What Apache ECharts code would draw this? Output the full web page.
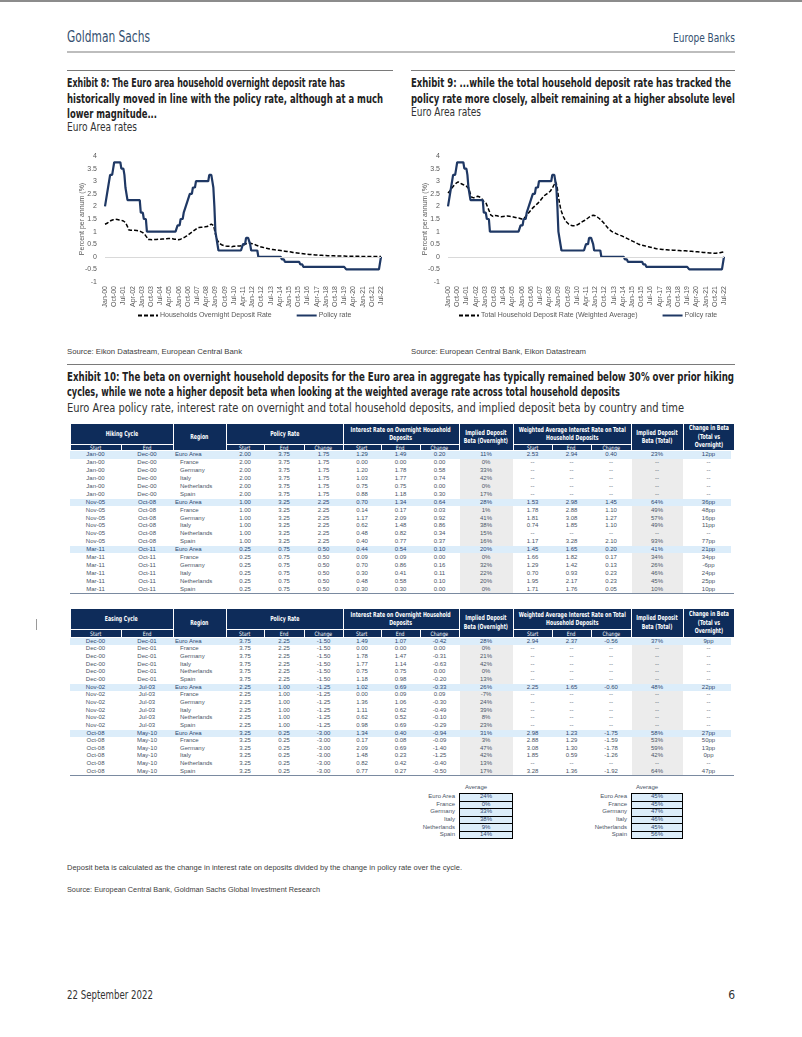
<!DOCTYPE html>
<html><head><meta charset="utf-8">
<script src="https://cdn.jsdelivr.net/npm/echarts/dist/echarts.min.js"></script>
<style>
html,body{margin:0;padding:0}
body{width:802px;height:1037px;background:#fff;position:relative;overflow:hidden;font-family:"Liberation Sans",Arial,sans-serif}
.hr{position:absolute;border-top:1px solid #7a7a7a;height:0}
</style></head>
<body>
<div class="hr" style="left:67px;top:70px;width:326px"></div>
<div class="hr" style="left:411px;top:70px;width:324px"></div>
<div class="hr" style="left:67px;top:364px;width:668px"></div>
<div id="c1" style="position:absolute;left:60px;top:140px;width:340px;height:190px"></div>
<div id="c2" style="position:absolute;left:404px;top:140px;width:340px;height:190px"></div>
<script>
// ---------- DATA ----------
const MONTHS=['Jan','Feb','Mar','Apr','May','Jun','Jul','Aug','Sep','Oct','Nov','Dec'];
const FIRST_YEAR=2000, LAST_YEAR=2022, LAST_MONTH_INDEX=6;
const categories=[];
for(let y=FIRST_YEAR;y<=LAST_YEAR;y++){for(let m=0;m<12;m++){if(y===LAST_YEAR&&m>LAST_MONTH_INDEX)break;categories.push(MONTHS[m]+'-'+String(y%100).padStart(2,'0'));}}

const policyRate=[
2.00,2.25,2.50,2.75,2.75,3.25,3.25,3.25,3.50,3.75,3.75,3.75,
3.75,3.75,3.75,3.75,3.50,3.50,3.50,3.25,2.75,2.75,2.25,2.25,
2.25,2.25,2.25,2.25,2.25,2.25,2.25,2.25,2.25,2.25,2.25,1.75,
1.75,1.75,1.50,1.50,1.50,1.00,1.00,1.00,1.00,1.00,1.00,1.00,
1.00,1.00,1.00,1.00,1.00,1.00,1.00,1.00,1.00,1.00,1.00,1.00,
1.00,1.00,1.00,1.00,1.00,1.00,1.00,1.00,1.00,1.00,1.00,1.25,
1.25,1.25,1.50,1.50,1.50,1.75,1.75,2.00,2.00,2.25,2.25,2.50,
2.50,2.50,2.75,2.75,2.75,3.00,3.00,3.00,3.00,3.00,3.00,3.00,
3.00,3.00,3.00,3.00,3.00,3.00,3.25,3.25,3.25,3.25,2.75,2.00,
1.00,1.00,0.50,0.25,0.25,0.25,0.25,0.25,0.25,0.25,0.25,0.25,
0.25,0.25,0.25,0.25,0.25,0.25,0.25,0.25,0.25,0.25,0.25,0.25,
0.25,0.25,0.25,0.50,0.50,0.50,0.75,0.75,0.75,0.75,0.50,0.25,
0.25,0.25,0.25,0.25,0.25,0.25,0.00,0.00,0.00,0.00,0.00,0.00,
0.00,0.00,0.00,0.00,0.00,0.00,0.00,0.00,0.00,0.00,0.00,0.00,
0.00,0.00,0.00,0.00,0.00,-0.10,-0.10,-0.10,-0.20,-0.20,-0.20,-0.20,
-0.20,-0.20,-0.20,-0.20,-0.20,-0.20,-0.20,-0.20,-0.20,-0.20,-0.20,-0.30,
-0.30,-0.30,-0.40,-0.40,-0.40,-0.40,-0.40,-0.40,-0.40,-0.40,-0.40,-0.40,
-0.40,-0.40,-0.40,-0.40,-0.40,-0.40,-0.40,-0.40,-0.40,-0.40,-0.40,-0.40,
-0.40,-0.40,-0.40,-0.40,-0.40,-0.40,-0.40,-0.40,-0.40,-0.40,-0.40,-0.40,
-0.40,-0.40,-0.40,-0.40,-0.40,-0.40,-0.40,-0.40,-0.50,-0.50,-0.50,-0.50,
-0.50,-0.50,-0.50,-0.50,-0.50,-0.50,-0.50,-0.50,-0.50,-0.50,-0.50,-0.50,
-0.50,-0.50,-0.50,-0.50,-0.50,-0.50,-0.50,-0.50,-0.50,-0.50,-0.50,-0.50,
-0.50,-0.50,-0.50,-0.50,-0.50,-0.50,0.00];

const overnightRate=[
1.29,1.30,1.33,1.36,1.39,1.42,1.44,1.46,1.47,1.48,1.49,1.49,
1.48,1.47,1.46,1.46,1.45,1.43,1.42,1.40,1.36,1.30,1.20,1.07,
1.06,1.05,1.05,1.05,1.05,1.05,1.05,1.04,1.04,1.03,1.02,1.00,
0.98,0.96,0.92,0.88,0.84,0.77,0.69,0.69,0.69,0.68,0.68,0.69,
0.69,0.69,0.69,0.69,0.70,0.70,0.70,0.70,0.71,0.71,0.71,0.72,
0.72,0.72,0.73,0.73,0.73,0.73,0.72,0.71,0.70,0.69,0.70,0.69,
0.68,0.69,0.70,0.72,0.74,0.76,0.78,0.80,0.83,0.86,0.89,0.92,
0.95,0.98,1.01,1.04,1.07,1.10,1.13,1.15,1.16,1.17,1.17,1.18,
1.18,1.18,1.19,1.19,1.20,1.22,1.25,1.28,1.30,1.34,1.25,1.10,
0.90,0.75,0.65,0.58,0.53,0.50,0.48,0.46,0.45,0.44,0.43,0.43,
0.42,0.42,0.42,0.42,0.40,0.41,0.42,0.42,0.42,0.42,0.43,0.43,
0.43,0.43,0.44,0.46,0.48,0.50,0.52,0.53,0.54,0.54,0.54,0.53,
0.52,0.51,0.50,0.48,0.46,0.45,0.43,0.41,0.40,0.39,0.38,0.37,
0.36,0.35,0.34,0.33,0.32,0.31,0.30,0.30,0.29,0.28,0.28,0.27,
0.27,0.26,0.26,0.25,0.25,0.24,0.23,0.23,0.22,0.21,0.21,0.20,
0.20,0.19,0.19,0.18,0.17,0.17,0.16,0.16,0.15,0.15,0.14,0.14,
0.13,0.13,0.12,0.12,0.11,0.11,0.10,0.10,0.09,0.09,0.09,0.08,
0.08,0.08,0.07,0.07,0.07,0.06,0.06,0.06,0.06,0.05,0.05,0.05,
0.05,0.05,0.04,0.04,0.04,0.04,0.04,0.04,0.04,0.03,0.03,0.03,
0.03,0.03,0.03,0.03,0.03,0.03,0.03,0.03,0.02,0.02,0.02,0.02,
0.02,0.02,0.02,0.02,0.02,0.02,0.02,0.02,0.02,0.02,0.01,0.01,
0.01,0.01,0.01,0.01,0.01,0.01,0.01,0.01,0.01,0.01,0.01,0.01,
0.01,0.01,0.01,0.01,0.01,0.01,0.01];

const totalRate=[
2.53,2.56,2.62,2.68,2.74,2.80,2.84,2.88,2.92,2.96,2.97,2.94,
2.92,2.90,2.88,2.86,2.84,2.82,2.80,2.77,2.72,2.62,2.48,2.37,
2.35,2.34,2.35,2.37,2.39,2.40,2.39,2.37,2.34,2.31,2.25,2.20,
2.20,2.15,2.05,1.95,1.85,1.75,1.65,1.62,1.60,1.62,1.64,1.64,
1.63,1.61,1.60,1.59,1.59,1.60,1.60,1.61,1.61,1.62,1.62,1.61,
1.61,1.60,1.60,1.59,1.58,1.57,1.56,1.55,1.54,1.53,1.53,1.52,
1.50,1.50,1.52,1.56,1.60,1.65,1.70,1.75,1.80,1.86,1.90,1.95,
1.98,2.01,2.05,2.09,2.13,2.18,2.22,2.27,2.32,2.38,2.42,2.46,
2.48,2.50,2.53,2.56,2.60,2.65,2.72,2.80,2.88,2.98,2.90,2.70,
2.40,2.15,1.95,1.80,1.68,1.58,1.50,1.43,1.38,1.33,1.30,1.27,
1.25,1.24,1.23,1.23,1.23,1.24,1.26,1.28,1.30,1.33,1.36,1.39,
1.41,1.43,1.45,1.48,1.51,1.54,1.57,1.60,1.62,1.65,1.65,1.64,
1.63,1.61,1.58,1.55,1.52,1.48,1.44,1.40,1.36,1.31,1.26,1.21,
1.16,1.12,1.08,1.04,1.01,0.99,0.97,0.95,0.93,0.91,0.89,0.87,
0.86,0.85,0.83,0.81,0.79,0.77,0.75,0.73,0.71,0.69,0.67,0.65,
0.63,0.61,0.59,0.57,0.55,0.53,0.51,0.49,0.48,0.47,0.46,0.45,
0.44,0.43,0.42,0.41,0.40,0.39,0.38,0.37,0.36,0.35,0.34,0.33,
0.32,0.31,0.31,0.30,0.30,0.29,0.29,0.29,0.28,0.28,0.28,0.27,
0.27,0.27,0.27,0.26,0.26,0.26,0.26,0.25,0.25,0.25,0.25,0.25,
0.24,0.24,0.24,0.24,0.24,0.23,0.23,0.23,0.22,0.22,0.22,0.21,
0.21,0.21,0.20,0.20,0.20,0.19,0.19,0.18,0.18,0.18,0.17,0.17,
0.17,0.16,0.16,0.16,0.15,0.15,0.15,0.15,0.14,0.14,0.14,0.15,
0.15,0.16,0.16,0.17,0.18,0.19,0.20];

const Y_MIN=-1, Y_MAX=4, Y_STEP=0.5;

const HIKING_ROWS=[
['Jan-00','Dec-00','Euro Area','2.00','3.75','1.75','1.29','1.49','0.20','11%','2.53','2.94','0.40','23%','12pp'],
['Jan-00','Dec-00','France','2.00','3.75','1.75','0.00','0.00','0.00','0%','--','--','--','--','--'],
['Jan-00','Dec-00','Germany','2.00','3.75','1.75','1.20','1.78','0.58','33%','--','--','--','--','--'],
['Jan-00','Dec-00','Italy','2.00','3.75','1.75','1.03','1.77','0.74','42%','--','--','--','--','--'],
['Jan-00','Dec-00','Netherlands','2.00','3.75','1.75','0.75','0.75','0.00','0%','--','--','--','--','--'],
['Jan-00','Dec-00','Spain','2.00','3.75','1.75','0.88','1.18','0.30','17%','--','--','--','--','--'],
['Nov-05','Oct-08','Euro Area','1.00','3.25','2.25','0.70','1.34','0.64','28%','1.53','2.98','1.45','64%','36pp'],
['Nov-05','Oct-08','France','1.00','3.25','2.25','0.14','0.17','0.03','1%','1.78','2.88','1.10','49%','48pp'],
['Nov-05','Oct-08','Germany','1.00','3.25','2.25','1.17','2.09','0.92','41%','1.81','3.08','1.27','57%','16pp'],
['Nov-05','Oct-08','Italy','1.00','3.25','2.25','0.62','1.48','0.86','38%','0.74','1.85','1.10','49%','11pp'],
['Nov-05','Oct-08','Netherlands','1.00','3.25','2.25','0.48','0.82','0.34','15%','--','--','--','--','--'],
['Nov-05','Oct-08','Spain','1.00','3.25','2.25','0.40','0.77','0.37','16%','1.17','3.28','2.10','93%','77pp'],
['Mar-11','Oct-11','Euro Area','0.25','0.75','0.50','0.44','0.54','0.10','20%','1.45','1.65','0.20','41%','21pp'],
['Mar-11','Oct-11','France','0.25','0.75','0.50','0.09','0.09','0.00','0%','1.66','1.82','0.17','34%','34pp'],
['Mar-11','Oct-11','Germany','0.25','0.75','0.50','0.70','0.86','0.16','32%','1.29','1.42','0.13','26%','-6pp'],
['Mar-11','Oct-11','Italy','0.25','0.75','0.50','0.30','0.41','0.11','22%','0.70','0.93','0.23','46%','24pp'],
['Mar-11','Oct-11','Netherlands','0.25','0.75','0.50','0.48','0.58','0.10','20%','1.95','2.17','0.23','45%','25pp'],
['Mar-11','Oct-11','Spain','0.25','0.75','0.50','0.30','0.30','0.00','0%','1.71','1.76','0.05','10%','10pp']];

const EASING_ROWS=[
['Dec-00','Dec-01','Euro Area','3.75','2.25','-1.50','1.49','1.07','-0.42','28%','2.94','2.37','-0.56','37%','9pp'],
['Dec-00','Dec-01','France','3.75','2.25','-1.50','0.00','0.00','0.00','0%','--','--','--','--','--'],
['Dec-00','Dec-01','Germany','3.75','2.25','-1.50','1.78','1.47','-0.31','21%','--','--','--','--','--'],
['Dec-00','Dec-01','Italy','3.75','2.25','-1.50','1.77','1.14','-0.63','42%','--','--','--','--','--'],
['Dec-00','Dec-01','Netherlands','3.75','2.25','-1.50','0.75','0.75','0.00','0%','--','--','--','--','--'],
['Dec-00','Dec-01','Spain','3.75','2.25','-1.50','1.18','0.98','-0.20','13%','--','--','--','--','--'],
['Nov-02','Jul-03','Euro Area','2.25','1.00','-1.25','1.02','0.69','-0.33','26%','2.25','1.65','-0.60','48%','22pp'],
['Nov-02','Jul-03','France','2.25','1.00','-1.25','0.00','0.09','0.09','-7%','--','--','--','--','--'],
['Nov-02','Jul-03','Germany','2.25','1.00','-1.25','1.36','1.06','-0.30','24%','--','--','--','--','--'],
['Nov-02','Jul-03','Italy','2.25','1.00','-1.25','1.11','0.62','-0.49','39%','--','--','--','--','--'],
['Nov-02','Jul-03','Netherlands','2.25','1.00','-1.25','0.62','0.52','-0.10','8%','--','--','--','--','--'],
['Nov-02','Jul-03','Spain','2.25','1.00','-1.25','0.98','0.69','-0.29','23%','--','--','--','--','--'],
['Oct-08','May-10','Euro Area','3.25','0.25','-3.00','1.34','0.40','-0.94','31%','2.98','1.23','-1.75','58%','27pp'],
['Oct-08','May-10','France','3.25','0.25','-3.00','0.17','0.08','-0.09','3%','2.88','1.29','-1.59','53%','50pp'],
['Oct-08','May-10','Germany','3.25','0.25','-3.00','2.09','0.69','-1.40','47%','3.08','1.30','-1.78','59%','13pp'],
['Oct-08','May-10','Italy','3.25','0.25','-3.00','1.48','0.23','-1.25','42%','1.85','0.59','-1.26','42%','0pp'],
['Oct-08','May-10','Netherlands','3.25','0.25','-3.00','0.82','0.42','-0.40','13%','--','--','--','--','--'],
['Oct-08','May-10','Spain','3.25','0.25','-3.00','0.77','0.27','-0.50','17%','3.28','1.36','-1.92','64%','47pp']];

const AVG_REGIONS=['Euro Area','France','Germany','Italy','Netherlands','Spain'];
const AVG_OVERNIGHT=['24%','0%','33%','38%','9%','14%'];
const AVG_TOTAL=['45%','45%','47%','46%','45%','56%'];

// ---------- HELPERS ----------
const B=document.body;
const NARROW='"Liberation Sans Narrow","DejaVu Sans Condensed",sans-serif';
const REG='"Liberation Sans",Arial,sans-serif';
function el(tag,css,html){const d=document.createElement(tag);d.style.cssText=css;if(html!==undefined)d.innerHTML=html;B.appendChild(d);return d;}
function rule(x0,x1,y,h,c){el('div',`position:absolute;left:${x0}px;top:${y}px;width:${x1-x0}px;height:${h}px;background:${c}`);}
function text(s,x,cy,fs,opt){
  opt=opt||{};
  const d=el('div',`position:absolute;white-space:nowrap;left:${x}px;top:${cy-fs*0.6}px;line-height:${fs*1.2}px;font-size:${fs}px;color:${opt.color||'#222'};font-weight:${opt.bold?'bold':'normal'};font-family:${opt.cond?NARROW:REG}`,s);
  const w=d.getBoundingClientRect().width;
  let sx=1; if(opt.w){sx=opt.w/w;}
  if(opt.right!==undefined){d.style.left=(opt.right-w*sx)+'px';}
  d.style.transformOrigin='0 50%';d.style.transform=`scaleX(${sx})`;
  return d;
}
function cell(x0,y0,x1,y1,html,o){
  o=o||{};
  const inner=o.sx?`<span style="display:inline-block;transform:scaleX(${o.sx});transform-origin:50% 50%">${html}</span>`:html;
  return el('div',`position:absolute;left:${x0}px;top:${y0}px;width:${x1-x0}px;height:${y1-y0}px;display:flex;align-items:center;justify-content:${o.align==='l'?'flex-start':(o.align==='r'?'flex-end':'center')};text-align:center;box-sizing:border-box;padding-left:${o.pl||0}px;padding-right:${o.pr||0}px;background:${o.bg||'transparent'};color:${o.color||'#3f4d61'};font-size:${o.fs||6}px;line-height:${o.lh||(o.fs||6)*1.2}px;font-weight:${o.bold?'bold':'normal'};font-family:${o.cond?NARROW:REG};white-space:nowrap;${o.extra||''}`,inner);
}

// ---------- PAGE TEXT ----------
rule(0,802,0,2,'#8c8c8c');
text('Goldman Sachs',67,37,15,{cond:true,color:'#34506f',w:83});
text('Europe Banks',0,38,12,{cond:true,color:'#34506f',w:62,right:735});
rule(67,735,51,2,'#bdbdbd');
text('Exhibit 8: The Euro area household overnight deposit rate has',67,83,13,{cond:true,bold:true,w:278});
text('historically moved in line with the policy rate, although at a much',67,99,13,{cond:true,bold:true,w:316});
text('lower magnitude...',67,114,13,{cond:true,bold:true,w:90});
text('Euro Area rates',67,127,12,{cond:true,color:'#333',w:70});
text('Exhibit 9: ...while the total household deposit rate has tracked the',411,83,13,{cond:true,bold:true,w:320});
text('policy rate more closely, albeit remaining at a higher absolute level',411,99,13,{cond:true,bold:true,w:324});
text('Euro Area rates',411,112,12,{cond:true,color:'#333',w:70});
text('Source: Eikon Datastream, European Central Bank',67,352,8,{color:'#404040',w:175});
text('Source: European Central Bank, Eikon Datastream',411,352,8,{color:'#404040',w:175});
text('Exhibit 10: The beta on overnight household deposits for the Euro area in aggregate has typically remained below 30% over prior hiking',67,377,13,{cond:true,bold:true,w:667});
text('cycles, while we note a higher deposit beta when looking at the weighted average rate across total household deposits',67,392,13,{cond:true,bold:true,w:553});
text('Euro Area policy rate, interest rate on overnight and total household deposits, and implied deposit beta by country and time',67,408,12,{cond:true,color:'#333',w:617});
text('Deposit beta is calculated as the change in interest rate on deposits divided by the change in policy rate over the cycle.',67,868,8,{color:'#404040',w:395});
text('Source: European Central Bank, Goldman Sachs Global Investment Research',67,890,8,{color:'#404040',w:253});
text('22 September 2022',67,995,12,{cond:true,color:'#333',w:86});
text('6',0,995,12,{cond:true,color:'#333',right:735});
rule(36,37,619,11,'#9a9a9a');

// ---------- TABLES ----------
const COLS=[70,121,173,226,264,304,343,381,420,459,513,552,591,631,683,734];
const NAVY='#0e2c5a', HL='#dcedfa', GRAY='#ececec';
function drawTable(top,mid,hb,cycleName,rows,rowH,bottomY){
  const C=COLS;
  const H=(x0,y0,x1,y1,s,main)=>cell(x0+0.5,y0,x1-0.5,y1-0.6,s,{bg:NAVY,color:'#fff',fs:main?7:6,bold:main,cond:true,lh:main?8.6:7,sx:main?0.74:0.85});
  H(C[0],top,C[2],mid,cycleName,true);
  H(C[0],mid,C[1],hb,'Start');H(C[1],mid,C[2],hb,'End');
  H(C[2],top,C[3],hb,'Region',true);
  H(C[3],top,C[6],mid,'Policy Rate',true);
  H(C[3],mid,C[4],hb,'Start');H(C[4],mid,C[5],hb,'End');H(C[5],mid,C[6],hb,'Change');
  H(C[6],top,C[9],mid,'Interest Rate on Overnight Household<br>Deposits',true);
  H(C[6],mid,C[7],hb,'Start');H(C[7],mid,C[8],hb,'End');H(C[8],mid,C[9],hb,'Change');
  H(C[9],top,C[10],hb,'Implied Deposit<br>Beta (Overnight)',true);
  H(C[10],top,C[13],mid,'Weighted Average Interest Rate on Total<br>Household Deposits',true);
  H(C[10],mid,C[11],hb,'Start');H(C[11],mid,C[12],hb,'End');H(C[12],mid,C[13],hb,'Change');
  H(C[13],top,C[14],hb,'Implied Deposit<br>Beta (Total)',true);
  H(C[14],top,C[15],hb,'Change in Beta<br>(Total vs<br>Overnight)',true);
  const bodyTop=hb, bodyBot=hb+rows.length*rowH;
  cell(C[9]+0.5,bodyTop,C[10]-0.5,bodyBot,'',{bg:GRAY});
  cell(C[13]+0.5,bodyTop,C[14]-0.5,bodyBot,'',{bg:GRAY});
  rows.forEach((r,i)=>{
    const y0=bodyTop+i*rowH, y1=y0+rowH;
    const ea=r[2]==='Euro Area';
    if(ea) cell(C[0],y0+0.3,C[15]-3,y1-0.3,'',{bg:HL});
    const col=ea?'#2d4870':'#4a5566';
    for(let j=0;j<15;j++){
      if(j===2) cell(C[2],y0,C[3],y1,r[j],{align:'l',pl:ea?2:7,fs:6,color:col});
      else cell(C[j],y0,C[j+1],y1,r[j],{fs:6,color:col});
    }
  });
  rule(C[0],C[15],bottomY,1,'#7a8aa0');
}
drawTable(424,445,451,'Hiking Cycle',HIKING_ROWS,7.9,593);
drawTable(609,630,637.5,'Easing Cycle',EASING_ROWS,7.65,775);

function drawAvg(x0,x1,vals){
  cell(x0-40,783,x1+20,792,'Average',{fs:6,color:'#4a5566'});
  const top=793, rh=7.6;
  el('div',`position:absolute;left:${x0}px;top:${top}px;width:${x1-x0}px;height:${rh*vals.length}px;border:1px solid #000;box-sizing:border-box;background:${HL}`);
  vals.forEach((v,i)=>{
    const y0=top+i*rh;
    if(i>0) rule(x0,x1,y0,1,'#000');
    cell(x0,y0,x1,y0+rh,v,{fs:6,color:'#2d4870'});
    cell(x0-60,y0,x0-4,y0+rh,AVG_REGIONS[i],{fs:6,align:'r',color:'#4a5566'});
  });
}
drawAvg(459,513,AVG_OVERNIGHT);
drawAvg(631,683,AVG_TOTAL);

// ---------- CHARTS ----------
function makeChart(id,dashName,dashData,gridLeft,gridRight,legendLeft){
  const c=echarts.init(document.getElementById(id),null,{renderer:'canvas'});
  c.setOption({
    animation:false,
    textStyle:{fontFamily:'"Liberation Sans", Arial, sans-serif'},
    grid:{left:gridLeft,right:gridRight,top:16,height:126,containLabel:false},
    legend:{left:legendLeft,top:172,itemWidth:20,itemHeight:6,itemGap:24,padding:0,
      itemStyle:{opacity:0},
      textStyle:{fontSize:7,color:'#595959',padding:[0,0,0,-3]},data:[dashName,'Policy rate']},
    xAxis:{type:'category',data:categories,boundaryGap:false,
      axisLine:{show:false},axisTick:{show:false},splitLine:{show:false},
      axisLabel:{interval:8,rotate:90,fontSize:7,color:'#595959',margin:4}},
    yAxis:{type:'value',min:Y_MIN,max:Y_MAX,interval:Y_STEP,
      axisLine:{show:false},axisTick:{show:false},splitLine:{show:false},
      axisLabel:{fontSize:7,color:'#595959',margin:8},
      name:'Percent per annum (%)',nameLocation:'middle',nameGap:19,nameRotate:90,nameMoveOverlap:false,
      nameTextStyle:{fontSize:7,color:'#595959'}},
    series:[
      {name:dashName,type:'line',data:dashData,symbol:'none',z:3,
        lineStyle:{color:'#000',width:1.5,type:[4,2]},itemStyle:{color:'#000'},
        markLine:{silent:true,symbol:'none',label:{show:false},animation:false,
          lineStyle:{color:'#d9d9d9',width:1,type:'solid'},data:[{yAxis:0}]}},
      {name:'Policy rate',type:'line',data:policyRate,symbol:'none',z:4,
        lineStyle:{color:'#1f3864',width:2.2},itemStyle:{color:'#1f3864'}}
    ]
  });
}
makeChart('c1','Households Overnight Deposit Rate',overnightRate,45,19,77);
makeChart('c2','Total Household Deposit Rate (Weighted Average)',totalRate,44,20,54);
</script>
</body></html>
